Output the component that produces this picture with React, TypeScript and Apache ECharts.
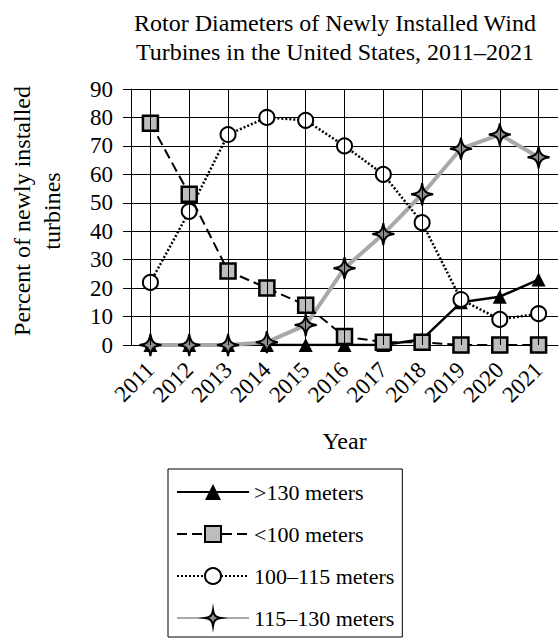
import React, { useEffect, useRef } from "react";
import * as echarts from "echarts";

const years = ["2011", "2012", "2013", "2014", "2015", "2016", "2017", "2018", "2019", "2020", "2021"];
const over130 = [0, 0, 0, 0, 0, 0, 0, 2, 15, 17, 23];
const under100 = [78, 53, 26, 20, 14, 3, 1, 1, 0, 0, 0];
const m100to115 = [22, 47, 74, 80, 79, 70, 60, 43, 16, 9, 11];
const m115to130 = [0, 0, 0, 1, 7, 27, 39, 53, 69, 74, 66];
const yTicks = { min: 0, max: 90, interval: 10 };
const yNameLines = ["Percent of newly installed", "turbines"];

const FONT = "Liberation Serif";
const STAR = "path://M10,0 C11,7 13,9 20,10 C13,11 11,13 10,20 C9,13 7,11 0,10 C7,9 9,7 10,0 Z";

export default function App() {
  const ref = useRef<HTMLDivElement>(null);
  useEffect(() => {
    if (!ref.current) return;
    const chart = echarts.init(ref.current, null, { renderer: "svg" });
    chart.setOption({
      animation: false,
      backgroundColor: "#fff",
      textStyle: { fontFamily: FONT, color: "#000" },
      title: {
        text: "Rotor Diameters of Newly Installed Wind\nTurbines in the United States, 2011\u20132021",
        left: 330,
        top: 3,
        textAlign: "center",
        textStyle: { fontFamily: FONT, fontSize: 24, fontWeight: "normal", color: "#000", lineHeight: 29, align: "center" },
      },
      graphic: yNameLines.map((t, i) => ({
        type: "text",
        x: 22 + i * 30,
        y: 211,
        rotation: Math.PI / 2,
        silent: true,
        style: {
          text: t,
          fontFamily: FONT,
          fontSize: 24,
          fill: "#000",
          align: "center",
          verticalAlign: "middle",
        },
      })),
      grid: { left: 131, right: 2, top: 89, bottom: 294, containLabel: false },
      legend: {
        orient: "vertical",
        left: 168,
        top: 469,
        height: 170,
        data: [">130 meters", "<100 meters", "100\u2013115 meters", "115\u2013130 meters"],
        itemWidth: 72,
        itemHeight: 20,
        itemGap: 20,
        padding: [12, 8, 8, 8],
        borderColor: "#000",
        borderWidth: 1,
        backgroundColor: "#fff",
        textStyle: { fontFamily: FONT, fontSize: 22, color: "#000" },
      },
      xAxis: {
        type: "category",
        data: years,
        boundaryGap: true,
        name: "Year",
        nameLocation: "middle",
        nameGap: 84,
        nameTextStyle: { fontFamily: FONT, fontSize: 24, color: "#000" },
        axisLine: { show: true, lineStyle: { color: "#000", width: 1 } },
        axisTick: { show: false },
        splitLine: { show: false },
        axisLabel: {
          rotate: 45,
          fontFamily: FONT,
          fontSize: 23,
          color: "#000",
          margin: 21,
          interval: 0,
        },
      },
      yAxis: {
        type: "value",
        min: yTicks.min,
        max: yTicks.max,
        interval: yTicks.interval,
        axisLine: { show: true, lineStyle: { color: "#000", width: 1 } },
        axisTick: { show: true, inside: false, length: 8, lineStyle: { color: "#000" } },
        splitLine: { show: true, lineStyle: { color: "#000", width: 1 } },
        axisLabel: { fontFamily: FONT, fontSize: 23, color: "#000", margin: 18 },
      },
      series: [
        {
          name: ">130 meters",
          type: "line",
          data: over130,
          symbol: "triangle",
          symbolSize: 14,
          itemStyle: { color: "#000", borderColor: "#000", borderWidth: 0 },
          lineStyle: { color: "#000", width: 2.5, type: "solid" },
          markLine: {
            silent: true,
            symbol: "none",
            label: { show: false },
            lineStyle: { color: "#000", width: 1, type: "solid" },
            data: years.map((y) => ({ xAxis: y })),
          },
        },
        {
          name: "115\u2013130 meters",
          type: "line",
          data: m115to130,
          symbol: STAR,
          symbolSize: 22,
          itemStyle: { color: "#8c8c8c", borderColor: "#000", borderWidth: 2 },
          lineStyle: { color: "#a8a8a8", width: 4, type: "solid" },
        },
        {
          name: "<100 meters",
          type: "line",
          data: under100,
          symbol: "rect",
          symbolSize: 15,
          itemStyle: { color: "#bdbdbd", borderColor: "#000", borderWidth: 2.5 },
          lineStyle: { color: "#000", width: 2, type: [10, 5] },
        },
        {
          name: "100\u2013115 meters",
          type: "line",
          data: m100to115,
          symbol: "circle",
          symbolSize: 15,
          itemStyle: { color: "#fff", borderColor: "#000", borderWidth: 2 },
          lineStyle: { color: "#000", width: 2.5, type: [2, 2] },
        },
      ],
    });
    return () => chart.dispose();
  }, []);
  return <div ref={ref} style={{ width: 560, height: 639, position: "absolute", left: 0, top: 0 }} />;
}
